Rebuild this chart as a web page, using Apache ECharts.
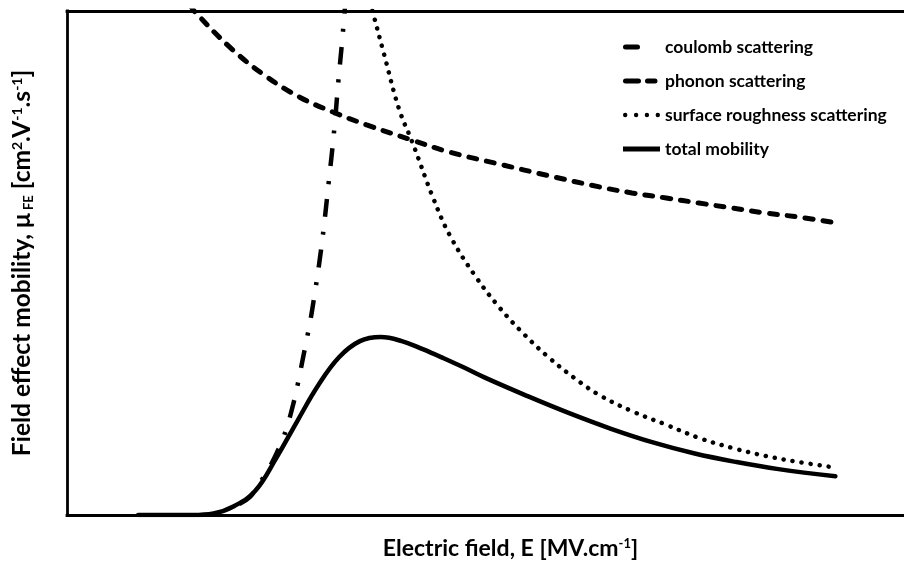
<!DOCTYPE html>
<html>
<head>
<meta charset="utf-8">
<script src="https://cdn.jsdelivr.net/npm/echarts@6/dist/echarts.min.js"></script>
<style>html,body{margin:0;padding:0;background:#fff}#c{width:904px;height:570px}</style>
</head>
<body>
<div id="c"></div>
<script>
// Electric field (arbitrary units, 0-10 across the frame) and mobility (arbitrary units, 0-10)
const seriesNames = ['coulomb scattering', 'phonon scattering', 'surface roughness scattering', 'total mobility'];

const coulombE  = [2.06, 2.187, 2.27, 2.40, 2.533, 2.617, 2.70, 2.76, 2.82, 2.879, 2.933, 3.035, 3.13, 3.196, 3.24, 3.288, 3.323];
const coulombMu = [0.22, 0.36, 0.56, 0.89, 1.33, 1.69, 2.18, 2.62, 3.12, 3.61, 4.11, 5.26, 6.65, 7.70, 8.57, 9.42, 10.12];

const phononE  = [1.47, 1.53, 1.98, 2.39, 2.78, 3.17, 3.58, 4.12, 4.57, 5.17, 5.76, 6.36, 6.75, 7.16, 7.55, 7.95, 8.35, 8.75, 9.14];
const phononMu = [10.12, 9.98, 9.23, 8.69, 8.29, 8.00, 7.74, 7.44, 7.20, 6.96, 6.73, 6.51, 6.39, 6.29, 6.19, 6.09, 5.99, 5.91, 5.81];

const roughE  = [3.62, 3.65, 3.79, 3.97, 4.13, 4.37, 4.57, 4.87, 5.17, 5.47, 5.76, 6.06, 6.36, 6.75, 7.16, 7.55, 7.95, 8.35, 8.75, 9.14];
const roughMu = [10.18, 10.0, 9.13, 8.04, 7.38, 6.31, 5.56, 4.76, 4.11, 3.57, 3.12, 2.72, 2.38, 2.06, 1.79, 1.53, 1.33, 1.17, 1.05, 0.95];

const totalE  = [0.85, 1.00, 1.50, 1.75, 2.00, 2.25, 2.50, 2.75, 3.00, 3.25, 3.50, 3.75, 4.00, 4.25, 4.50, 4.75, 5.00, 5.50, 6.00, 6.50, 7.00, 7.50, 8.00, 8.50, 9.18];
const totalMu = [0.00, 0.00, 0.00, 0.03, 0.18, 0.48, 1.13, 1.86, 2.57, 3.13, 3.45, 3.53, 3.45, 3.29, 3.11, 2.92, 2.72, 2.36, 2.02, 1.71, 1.44, 1.22, 1.05, 0.91, 0.77];

const xTitle = 'Electric field, E [MV.cm';
const yTitleParts = ['Field effect mobility, μ', 'FE', '[cm', '2', '.V', '-1', '.s', '-1', ']'];

function pairs(xs, ys) { return xs.map((x, i) => [x, ys[i]]); }

const FONT = 'Lato';
const chart = echarts.init(document.getElementById('c'));
const lineCommon = { type: 'line', showSymbol: false, symbol: 'none', clip: true, z: 3 };
const frameLine = { show: true, lineStyle: { color: '#000', width: 2.8, cap: 'square' } };
const hidden = { axisTick: { show: false }, axisLabel: { show: false }, splitLine: { show: false } };

// legend glyphs (37 px wide)
const iconDash = 'path://M2.5,0H14.5A2.5,2.5,0,0,1,14.5,5H2.5A2.5,2.5,0,0,1,2.5,0ZM37,2.5L37,2.5Z';
const iconDash2 = 'path://M2.5,0H15.5A2.5,2.5,0,0,1,15.5,5H2.5A2.5,2.5,0,0,1,2.5,0ZM24.5,0H32A2.5,2.5,0,0,1,32,5H24.5A2.5,2.5,0,0,1,24.5,0ZM37,2.5L37,2.5Z';
const iconDots = 'path://M0,2.5A2.2,2.2,0,1,1,4.4,2.5A2.2,2.2,0,1,1,0,2.5ZM10.9,2.5A2.2,2.2,0,1,1,15.3,2.5A2.2,2.2,0,1,1,10.9,2.5ZM21.7,2.5A2.2,2.2,0,1,1,26.1,2.5A2.2,2.2,0,1,1,21.7,2.5ZM32.6,2.5A2.2,2.2,0,1,1,37,2.5A2.2,2.2,0,1,1,32.6,2.5Z';
const iconSolid = 'path://M0,0H37V5H0Z';

chart.setOption({
  animation: false,
  backgroundColor: '#fff',
  color: ['#000', '#000', '#000', '#000'],
  grid: { left: 67, right: 0, top: 11, bottom: 55, show: false },
  legend: {
    orient: 'vertical', left: 618, top: 33,
    itemWidth: 37, itemHeight: 14, itemGap: 16,
    textStyle: { fontFamily: FONT, fontWeight: 'bold', fontSize: 17.5, color: '#000' },
    data: [
      { name: seriesNames[0], icon: iconDash, itemStyle: { color: '#000' } },
      { name: seriesNames[1], icon: iconDash2, itemStyle: { color: '#000' } },
      { name: seriesNames[2], icon: iconDots, itemStyle: { color: '#000' } },
      { name: seriesNames[3], icon: iconSolid, itemStyle: { color: '#000' } }
    ]
  },
  xAxis: [Object.assign({
    type: 'value', min: 0, max: 10, position: 'bottom',
    axisLine: frameLine,
    name: '{t|' + xTitle + '}{s|-1}{t|]}', nameLocation: 'middle', nameGap: 22,
    nameTextStyle: { padding: [0, 0, 0, 50], rich: {
      t: { fontFamily: FONT, fontWeight: 'bold', fontSize: 23, color: '#000' },
      s: { fontFamily: FONT, fontWeight: 'bold', fontSize: 13, color: '#000', verticalAlign: 'top' }
    } }
  }, hidden), Object.assign({
    type: 'value', min: 0, max: 10, position: 'top', axisLine: frameLine
  }, hidden)],
  yAxis: Object.assign({
    type: 'value', min: 0, max: 10, position: 'left',
    axisLine: frameLine,
    name: '{t|' + yTitleParts[0] + '}{b| ' + yTitleParts[1] + '}{t| ' + yTitleParts[2] + '}{s|' + yTitleParts[3] + '}{t|' + yTitleParts[4] + '}{s|' + yTitleParts[5] + '}{t|' + yTitleParts[6] + '}{s|' + yTitleParts[7] + '}{t|' + yTitleParts[8] + '}',
    nameLocation: 'middle', nameGap: 32, nameRotate: 90,
    nameTextStyle: { rich: {
      t: { fontFamily: FONT, fontWeight: 'bold', fontSize: 24.5, color: '#000' },
      s: { fontFamily: FONT, fontWeight: 'bold', fontSize: 14, color: '#000', verticalAlign: 'top' },
      b: { fontFamily: FONT, fontWeight: 'bold', fontSize: 13, color: '#000', verticalAlign: 'bottom' }
    } }
  }, hidden),
  series: [
    Object.assign({}, lineCommon, { name: seriesNames[0], smooth: 0.4, data: pairs(coulombE, coulombMu),
      lineStyle: { color: '#000', width: 4.5, type: [18, 15, 3, 15], cap: 'butt' } }),
    Object.assign({}, lineCommon, { name: seriesNames[1], smooth: 0.4, data: pairs(phononE, phononMu),
      lineStyle: { color: '#000', width: 5, type: [8, 10], cap: 'round' } }),
    Object.assign({}, lineCommon, { name: seriesNames[2], smooth: 0.4, data: pairs(roughE, roughMu),
      lineStyle: { color: '#000', width: 4.5, type: [0.1, 9], cap: 'round' } }),
    Object.assign({}, lineCommon, { name: seriesNames[3], smooth: 0.4, data: pairs(totalE, totalMu),
      lineStyle: { color: '#000', width: 4.5, type: 'solid', cap: 'round' } })
  ]
});
</script>
</body>
</html>
